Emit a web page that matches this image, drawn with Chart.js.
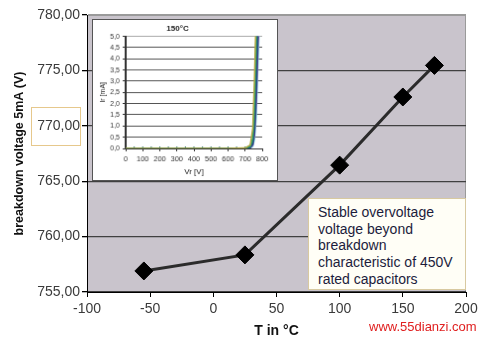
<!DOCTYPE html>
<html>
<head>
<meta charset="utf-8">
<script src="https://cdn.jsdelivr.net/npm/chart.js@4.4.1/dist/chart.umd.min.js"></script>
<style>
  body { margin: 0; background: #fff; }
  #wrap { position: relative; width: 484px; height: 340px; font-family: "Liberation Sans", Arial, sans-serif; }
  #main { position: absolute; left: 0; top: 0; }
  #inset { position: absolute; left: 92px; top: 19px; background: #fff; border: 1px solid #555; }
  #note {
    position: absolute; left: 308px; top: 198px; width: 158px; height: 92px;
    box-sizing: border-box; background: #fffef6; border: 1px solid #d8c9a0;
    padding: 5px 0 0 9px; font-size: 14px; line-height: 16.7px; color: #1c1c3c;
  }
  #mark { position: absolute; left: 31px; top: 107px; width: 50px; height: 39px; box-sizing: border-box; border: 1px solid #e6c88c; }
  #site { position: absolute; left: 369px; top: 319px; font-size: 13px; color: #e02020; }
</style>
</head>
<body>
<div id="wrap">
  <canvas id="main" width="484" height="340"></canvas>
  <canvas id="inset" width="186" height="162"></canvas>
  <div id="mark"></div>
  <div id="note">Stable overvoltage<br>voltage beyond<br>breakdown<br>characteristic of 450V<br>rated capacitors</div>
  <div id="site">www.55dianzi.com</div>
</div>
<script>
// main chart: breakdown voltage vs temperature
const temps = [-55, 25, 100, 150, 175];
const breakdownV = [756.9, 758.35, 766.45, 772.6, 775.45];

// inset chart: Ir vs Vr at 150°C
const vrInset = [0, 100, 200, 300, 400, 500, 600, 700, 730, 745, 755, 765, 775, 785];
const irCurves = [
  [0, 0, 0, 0, 0, 0, 0, 0.02, 0.15, 0.9, 3.2, 6, 6, 6],
  [0, 0, 0, 0, 0, 0, 0, 0.01, 0.1, 0.5, 2.0, 5.2, 6, 6],
  [0, 0, 0, 0, 0, 0, 0, 0.01, 0.06, 0.3, 1.2, 3.8, 6, 6],
  [0, 0, 0, 0, 0, 0, 0, 0, 0.04, 0.2, 0.8, 2.6, 5.5, 6],
  [0, 0, 0, 0, 0, 0, 0, 0, 0.03, 0.15, 0.6, 2.0, 4.6, 6],
  [0, 0, 0, 0, 0, 0, 0, 0, 0.02, 0.1, 0.4, 1.4, 3.8, 6]
];
const curveColors = ["#b0a840", "#2e9e6e", "#1c6f72", "#2c3c90", "#7b3d9c", "#70d8d8"];
const markVr = [50, 100, 150, 200, 250, 300, 350, 400, 450, 500, 550, 600, 650, 700];

const FONT = "'Liberation Sans', Arial, sans-serif";
const comma = (v, d) => Number(v).toFixed(d).replace(".", ",");

const plotBg = {
  id: "plotBg",
  beforeDraw(chart) {
    const { ctx, chartArea: { left, top, width, height } } = chart;
    ctx.save();
    ctx.fillStyle = chart.options.plugins.plotBg.color;
    ctx.fillRect(left, top, width, height);
    ctx.strokeStyle = "#9a9a9a";
    ctx.lineWidth = 1;
    ctx.strokeRect(left + 0.5, top + 0.5, width - 1, height - 1);
    ctx.restore();
  }
};

new Chart(document.getElementById("main"), {
  type: "line",
  data: {
    datasets: [{
      data: temps.map((t, i) => ({ x: t, y: breakdownV[i] })),
      borderColor: "#2b2b2b",
      borderWidth: 3,
      pointStyle: "rectRot",
      pointRadius: 9,
      pointBackgroundColor: "#000",
      pointBorderColor: "#000",
      pointBorderWidth: 1,
      tension: 0
    }]
  },
  options: {
    responsive: false,
    animation: false,
    layout: { padding: { top: 15, right: 18, left: 0, bottom: 0 } },
    plugins: { legend: { display: false }, tooltip: { enabled: false }, plotBg: { color: "#c9c4cc" } },
    scales: {
      x: {
        type: "linear",
        min: -100, max: 200,
        afterFit: s => { s.height = 48; },
        ticks: { stepSize: 50, padding: 4, color: "#3a3a3a", font: { family: FONT, size: 14 } },
        grid: { drawOnChartArea: false, tickLength: 5, color: "#000" },
        border: { color: "#000" },
        title: { display: true, text: "T in °C", color: "#111", padding: { top: 0, bottom: 0 },
                 font: { family: FONT, size: 14, weight: "bold" } }
      },
      y: {
        min: 755, max: 780,
        afterFit: s => { s.width = 87; },
        ticks: { stepSize: 5, padding: 2, color: "#3a3a3a", font: { family: FONT, size: 14 },
                 callback: v => comma(v, 2) },
        grid: { color: c => c.tick.value === 780 ? "#9a9a9a" : "#404040", lineWidth: 1.3,
                tickLength: 5, tickColor: "#000" },
        border: { color: "#000" },
        title: { display: true, text: "breakdown voltage 5mA (V)", color: "#111", padding: { top: 12, bottom: 0 },
                 font: { family: FONT, size: 12.5, weight: "bold" } }
      }
    }
  },
  plugins: [plotBg]
});

const insetSets = irCurves.map((ir, k) => ({
  data: vrInset.map((v, i) => ({ x: v, y: ir[i] })),
  borderColor: curveColors[k],
  borderWidth: 1.5,
  pointRadius: 0,
  tension: 0
}));
insetSets.push({
  data: markVr.map(v => ({ x: v, y: 0 })),
  showLine: false,
  pointStyle: "cross",
  pointRadius: 2,
  pointBorderColor: "#2a6a6a",
  pointBorderWidth: 1
});

new Chart(document.getElementById("inset"), {
  type: "line",
  data: { datasets: insetSets },
  options: {
    responsive: false,
    animation: false,
    layout: { padding: { top: 4, right: 15, left: 0, bottom: 0 } },
    plugins: {
      legend: { display: false }, tooltip: { enabled: false },
      title: { display: true, text: "150°C", color: "#222", padding: { top: 0, bottom: 3 },
               font: { family: FONT, size: 8 } }
    },
    scales: {
      x: {
        type: "linear",
        min: 0, max: 800,
        afterFit: s => { s.height = 32; },
        ticks: { stepSize: 100, padding: 3, autoSkip: false, maxRotation: 0, color: "#333",
                 font: { family: FONT, size: 7.5 } },
        grid: { drawOnChartArea: false, tickLength: 3, color: "#333" },
        border: { color: "#333" },
        title: { display: true, text: "Vr [V]", color: "#222", padding: { top: 0, bottom: 3 },
                 font: { family: FONT, size: 8 } }
      },
      y: {
        min: 0, max: 5,
        afterFit: s => { s.width = 33; },
        ticks: { stepSize: 0.5, padding: 3, autoSkip: false, color: "#333", font: { family: FONT, size: 7 },
                 callback: v => comma(v, 1) },
        grid: { color: c => c.tick.value === 5 ? "#aaa" : "#555", tickLength: 3, tickColor: "#333" },
        border: { color: "#333", width: 2 },
        title: { display: true, text: "Ir [mA]", color: "#222", padding: { top: 6, bottom: 0 },
                 font: { family: FONT, size: 7 } }
      }
    }
  }
});
</script>
</body>
</html>
